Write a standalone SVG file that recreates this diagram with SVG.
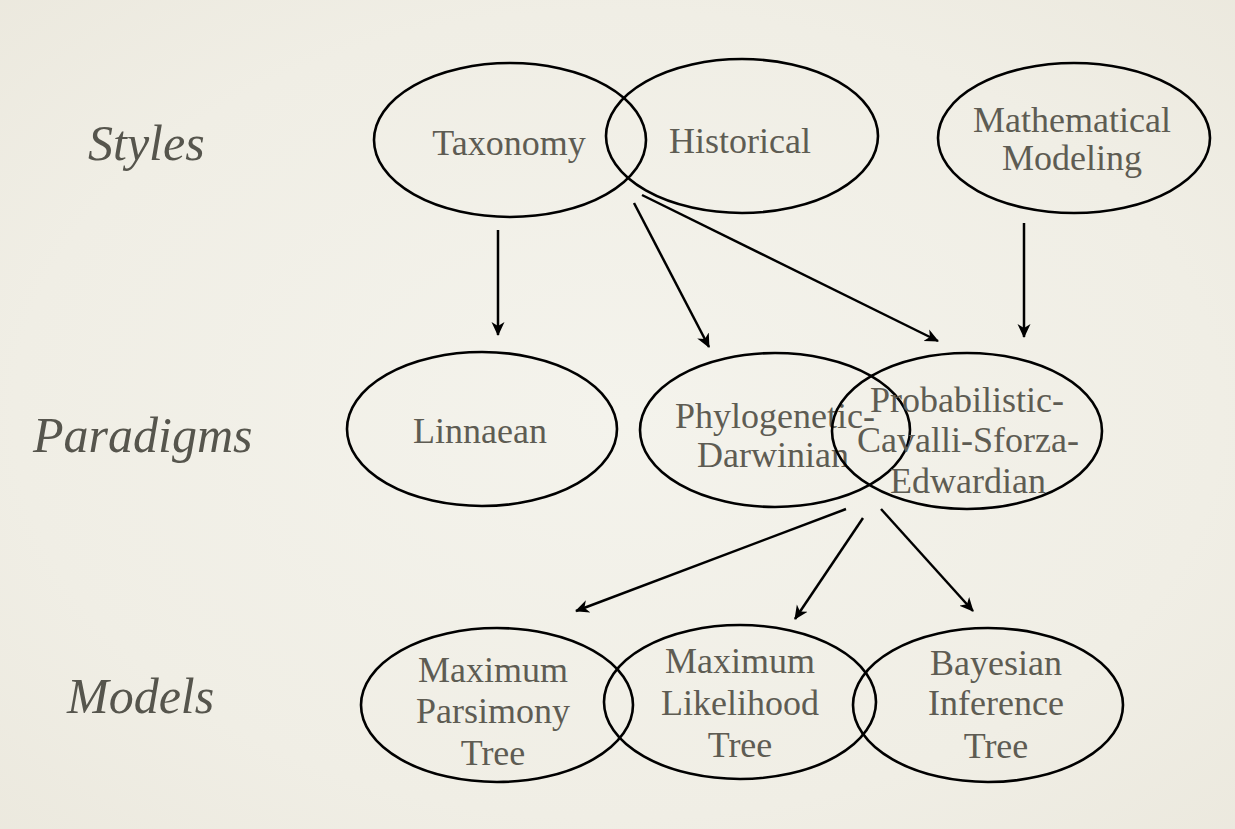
<svg xmlns="http://www.w3.org/2000/svg" width="1235" height="829" viewBox="0 0 1235 829">
<defs>
<radialGradient id="bg" cx="0.5" cy="0.5" r="0.75">
<stop offset="0" stop-color="#f4f3ec"/>
<stop offset="0.65" stop-color="#f0eee5"/>
<stop offset="1" stop-color="#ebe8dd"/>
</radialGradient>
<marker id="arr" viewBox="0 0 14 14" refX="13" refY="7" markerWidth="14" markerHeight="14" markerUnits="userSpaceOnUse" orient="auto">
<path d="M0,0.5 L14,7 L0,13.5 L4,7 z" fill="#000"/>
</marker>
<style>
.node ellipse{fill:none;stroke:#000;stroke-width:2.6}
.node text{font-family:"Liberation Serif","DejaVu Serif",serif;font-size:36px;fill:#5e5c53;text-anchor:middle}
.row{font-family:"Liberation Serif","DejaVu Serif",serif;font-size:50px;font-style:italic;fill:#56554d}
#connectors line{stroke:#000;stroke-width:2.5;marker-end:url(#arr)}
</style>
</defs>
<rect width="1235" height="829" fill="url(#bg)"/>
<g id="row-labels">
<text class="row" x="88" y="160">Styles</text>
<text class="row" x="33" y="452">Paradigms</text>
<text class="row" x="67" y="713">Models</text>
</g>
<g id="connectors">
<line x1="498" y1="230" x2="498" y2="335"/>
<line x1="634" y1="203" x2="709" y2="347"/>
<line x1="642" y1="195" x2="938" y2="341"/>
<line x1="1024" y1="223" x2="1024" y2="337"/>
<line x1="846" y1="509" x2="576" y2="611"/>
<line x1="863" y1="518" x2="795" y2="619"/>
<line x1="881" y1="509" x2="973" y2="611"/>
</g>
<g id="taxonomy" class="node">
<ellipse cx="510" cy="140" rx="136" ry="77"/>
<text x="509" y="155">Taxonomy</text>
</g>
<g id="historical" class="node">
<ellipse cx="742" cy="136" rx="136" ry="77"/>
<text x="740" y="153">Historical</text>
</g>
<g id="mathematical-modeling" class="node">
<ellipse cx="1074" cy="138" rx="136" ry="75"/>
<text x="1072" y="132">Mathematical</text>
<text x="1072" y="170">Modeling</text>
</g>
<g id="linnaean" class="node">
<ellipse cx="482" cy="429" rx="135" ry="77"/>
<text x="480" y="443">Linnaean</text>
</g>
<g id="phylogenetic-darwinian" class="node">
<ellipse cx="775" cy="430" rx="135" ry="77"/>
<text x="775" y="428">Phylogenetic-</text>
<text x="773" y="467">Darwinian</text>
</g>
<g id="probabilistic" class="node">
<ellipse cx="967" cy="431" rx="135" ry="78"/>
<text x="967" y="412">Probabilistic-</text>
<text x="968" y="452">Cavalli-Sforza-</text>
<text x="968" y="493">Edwardian</text>
</g>
<g id="maximum-parsimony" class="node">
<ellipse cx="497" cy="705" rx="136" ry="77"/>
<text x="493" y="682">Maximum</text>
<text x="493" y="723">Parsimony</text>
<text x="493" y="765">Tree</text>
</g>
<g id="maximum-likelihood" class="node">
<ellipse cx="740" cy="702" rx="136" ry="77"/>
<text x="740" y="673">Maximum</text>
<text x="740" y="715">Likelihood</text>
<text x="740" y="757">Tree</text>
</g>
<g id="bayesian" class="node">
<ellipse cx="988" cy="705" rx="135" ry="77"/>
<text x="996" y="675">Bayesian</text>
<text x="996" y="715">Inference</text>
<text x="996" y="758">Tree</text>
</g>
</svg>
